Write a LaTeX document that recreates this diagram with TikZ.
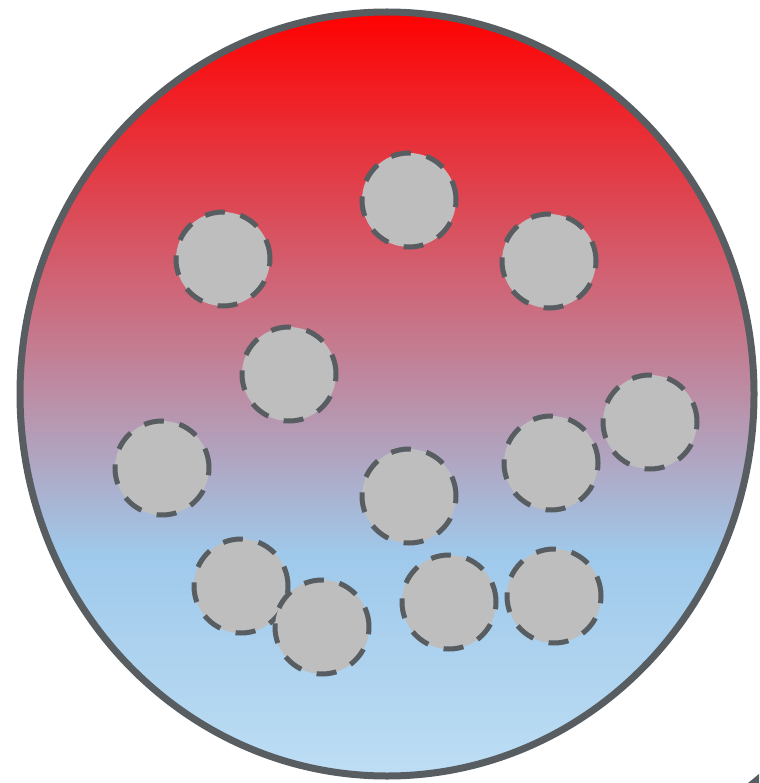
\documentclass[tikz,border=0pt]{standalone}
\definecolor{rimgray}{HTML}{575D60}
\definecolor{dotfill}{HTML}{BEBEBE}
\definecolor{topred}{HTML}{FF0000}
\definecolor{midblue}{HTML}{9FC9EB}
\definecolor{lowblue}{HTML}{BEDEF4}
\begin{document}
\begin{tikzpicture}[x=1pt,y=-1pt,
  dot/.style={circle, draw=rimgray, fill=dotfill, line width=5pt,
    dash pattern=on 20pt off 16pt, minimum size=94pt, inner sep=0pt}]
\useasboundingbox (0,0) rectangle (759,783);
\begin{scope}
  \clip (387,394) ellipse [x radius=367pt, y radius=382pt];
  \shade[top color=topred, bottom color=midblue] (0,10) rectangle (759,555);
  \shade[top color=midblue, bottom color=lowblue] (0,555) rectangle (759,780);
\end{scope}
\draw[rimgray, line width=7pt] (387,394) ellipse [x radius=367pt, y radius=382pt];
\node[dot] (c1) at (409,200) {};
\node[dot] (c2) at (223,259) {};
\node[dot] (c3) at (549,261) {};
\node[dot] (c4) at (289,374) {};
\node[dot] (c5) at (162,468) {};
\node[dot] (c6) at (409,496) {};
\node[dot] (c7) at (551,463) {};
\node[dot] (c8) at (650,422) {};
\node[dot] (c9) at (241,586) {};
\node[dot] (c10) at (322,627) {};
\node[dot] (c11) at (449,602) {};
\node[dot] (c12) at (554,596) {};
\fill[rimgray] (748,783) -- (759,774) -- (759,783) -- cycle;
\end{tikzpicture}
\end{document}
